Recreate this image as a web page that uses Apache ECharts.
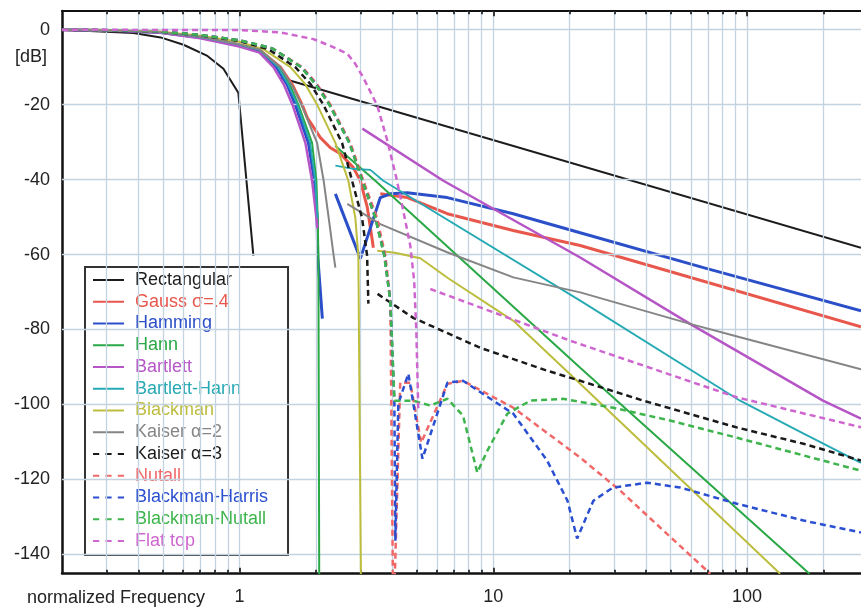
<!DOCTYPE html>
<html><head><meta charset="utf-8">
<script src="https://cdn.jsdelivr.net/npm/echarts@6/dist/echarts.min.js"></script>
<style>html,body{margin:0;padding:0;background:#fff}#c{width:861px;height:608px}</style>
</head><body><div id="c"></div><script>
// [normalized frequency, dB]; null y = gap
const rectangular = [[0.2,0],[0.383,-0.9],[0.489,-2.05],[0.602,-4.0],[0.748,-7.0],[0.865,-10.4],[0.99,-16.8],[1.135,-60.3],[1.3,null],[1.45,-12.8],[281,-58.2]];
const gauss = [[0.2,0],[0.35,-0.25],[0.489,-0.7],[0.702,-2.0],[1,-4.0],[1.2,-5.4],[1.45,-10],[1.62,-14.8],[1.766,-20],[1.852,-23.5],[2.084,-28.8],[2.282,-31.5],[2.498,-33.1],[2.811,-36.8],[2.995,-40.3],[3.192,-47.5],[3.28,-52.8],[3.37,-58.2],[3.5,null],[3.59,-43.8],[4.59,-44.8],[6.59,-49.1],[11.98,-53.6],[22,-57.6],[281,-79.3]];
const hamming = [[0.2,0],[0.35,-0.25],[0.489,-0.75],[0.702,-2.1],[1,-4.2],[1.2,-5.7],[1.399,-10],[1.54,-14.6],[1.661,-20],[1.869,-30.2],[1.974,-40.3],[2.023,-50.2],[2.034,-60.3],[2.122,-77.1],[2.2,null],[2.388,-43.8],[2.995,-61.1],[3.59,-44.8],[3.931,-43.8],[4.586,-43.5],[6.59,-44.8],[11.98,-49.1],[22,-54.2],[67.3,-63.5],[281,-75]];
const hann = [[0.2,0],[0.35,-0.25],[0.489,-0.7],[0.702,-2.0],[1,-4.0],[1.2,-5.3],[1.437,-10],[1.58,-14.7],[1.707,-20],[1.933,-30.2],[2.01,-40.3],[2.034,-50.2],[2.047,-60.3],[2.065,-160],[2.2,null],[2.388,-31],[3.43,-40.3],[22,-90.2],[176,-145.2]];
const bartlett = [[0.2,0],[0.35,-0.3],[0.489,-0.8],[0.702,-2.3],[1,-4.5],[1.2,-6.1],[1.361,-10],[1.5,-14.8],[1.617,-20],[1.819,-30.2],[1.933,-40.3],[2.01,-50.2],[2.028,-53],[2.5,null],[3.05,-26.4],[6.36,-40.3],[22,-60.8],[59.6,-78.5],[199,-99],[281,-103.8]];
const bartlettHann = [[0.2,0],[0.35,-0.25],[0.489,-0.7],[0.702,-2.0],[1,-4.0],[1.2,-5.4],[1.42,-10],[1.56,-14.7],[1.69,-20],[1.9,-30.2],[1.99,-40.3],[2.03,-50.2],[2.2,null],[2.388,-36.3],[2.78,-37.1],[3.28,-37.4],[3.689,-40.3],[22,-72.3],[93.8,-99],[167,-107.8],[281,-115.6]];
const blackman = [[0.2,0],[0.35,-0.2],[0.489,-0.55],[0.702,-1.6],[1,-3.2],[1.25,-5.3],[1.588,-10],[1.82,-14.6],[2.023,-20],[2.388,-30.2],[2.686,-40.3],[2.862,-50.2],[2.941,-60.3],[3.022,-160],[3.2,null],[3.49,-59],[4.1,-59.5],[5.16,-61],[6.6,-66.2],[12,-77.7],[22,-94.5],[134.9,-145.2]];
const kaiser2 = [[0.2,0],[0.35,-0.25],[0.489,-0.7],[0.702,-1.9],[1,-3.9],[1.2,-5.3],[1.45,-10],[1.61,-14.8],[1.754,-20],[2.023,-30.2],[2.147,-40.3],[2.247,-50.2],[2.351,-60.3],[2.388,-63.5],[2.5,null],[2.66,-46.5],[3.59,-51.9],[6.58,-59.4],[12,-66.1],[22,-70.1],[59.6,-78.5],[93.8,-82.1],[281,-90.6]];
const kaiser3 = [[0.2,0],[0.35,-0.2],[0.489,-0.5],[0.702,-1.5],[1,-3.0],[1.3,-5.2],[1.661,-10],[1.91,-14.6],[2.141,-20],[2.537,-30.2],[2.778,-40.3],[3.041,-50.2],[3.184,-60.3],[3.221,-73.1],[3.3,null],[3.5,-70.5],[4.84,-76.9],[8.89,-84.9],[16.3,-91],[22,-93.7],[39,-99],[91.6,-106.2],[166.7,-110.5],[281,-115]];
const nutall = [[0.2,0],[0.35,-0.15],[0.489,-0.45],[0.702,-1.4],[1,-2.8],[1.35,-5.0],[1.771,-10],[2.03,-14.7],[2.282,-20],[2.735,-30.2],[3.078,-40.3],[3.484,-50.2],[3.757,-60.3],[3.931,-72.3],[4.04,-160],[4.3,-94.2],[4.71,-94.2],[5.2,-110.2],[6.6,-94.5],[7.6,-93.7],[12,-100.9],[22,-114.2],[31.6,-123],[71.6,-145.2]];
const blackmanHarris = [[0.2,0],[0.35,-0.15],[0.489,-0.45],[0.702,-1.4],[1,-2.8],[1.35,-5.0],[1.754,-10],[2.01,-14.7],[2.262,-20],[2.711,-30.2],[3.05,-40.3],[3.43,-50.2],[3.723,-60.3],[3.931,-72.3],[4.077,-99],[4.114,-136.4],[4.227,-99.8],[4.63,-91.8],[5.26,-114.5],[6.6,-94.2],[7.6,-93.7],[12,-102.5],[16.3,-115],[19.6,-125.7],[21.4,-135.8],[24.8,-125.7],[29.6,-122.2],[40.4,-120.9],[54.5,-122.2],[91.2,-126.5],[167,-131],[281,-134.2]];
const blackmanNutall = [[0.2,0],[0.35,-0.15],[0.489,-0.45],[0.702,-1.4],[1,-2.8],[1.35,-5.0],[1.75,-10],[2.0,-14.7],[2.26,-20],[2.71,-30.2],[3.05,-40.3],[3.43,-50.2],[3.72,-60.3],[3.93,-72.3],[4.08,-99],[4.227,-99],[4.84,-99],[5.65,-100.3],[6.6,-98.5],[7.6,-103],[8.65,-118.2],[9.47,-112.4],[11.36,-102.5],[14,-99],[18.86,-98.5],[29.7,-100.9],[49.7,-104.3],[91.3,-108.9],[281,-117.7]];
const flatTop = [[0.2,0],[1,-0.1],[1.45,-0.7],[1.956,-2.5],[2.28,-4.3],[2.662,-6.4],[2.86,-9.1],[3.078,-12.8],[3.494,-20.3],[3.825,-29.6],[4.15,-39.5],[4.42,-48.3],[4.71,-57.6],[4.88,-67],[4.976,-80.3],[5.067,-101.7],[5.3,null],[5.65,-69.2],[20.1,-83],[91,-98.1],[281,-106.1]];

const xGridValues = [0.3,0.4,0.5,0.6,0.7,0.8,0.9,1,2,3,4,5,6,7,8,9,10,20,30,40,50,60,70,80,90,100,200];
const yGridValues = [0,-20,-40,-60,-80,-100,-120,-140];
const xTickLabels = [1,10,100];
const xRange = [0.2,281];
const yRange = [-145,5];

const FONT = 'Liberation Sans, Arial, sans-serif';
const SOLID_ICON = 'path://M0,0H30V2H0Z';
const DASH_ICON = 'path://M0,0H6V2H0Z M12,0H18V2H12Z M24,0H30V2H24Z';
const seriesDefs = [
  {name:'Rectangular', data:rectangular, color:'#1c1c1c', width:2, dash:'solid'},
  {name:'Gauss σ=.4', data:gauss, color:'#e8574c', width:3, dash:'solid'},
  {name:'Hamming', data:hamming, color:'#2b4fc8', width:3, dash:'solid'},
  {name:'Hann', data:hann, color:'#2aa845', width:2, dash:'solid'},
  {name:'Bartlett', data:bartlett, color:'#b656c6', width:2.5, dash:'solid'},
  {name:'Bartlett-Hann', data:bartlettHann, color:'#25a9b3', width:1.8, dash:'solid'},
  {name:'Blackman', data:blackman, color:'#bdbd3d', width:2, dash:'solid'},
  {name:'Kaiser α=2', data:kaiser2, color:'#858585', width:2, dash:'solid'},
  {name:'Kaiser α=3', data:kaiser3, color:'#1a1a1a', width:2.5, dash:[6,4]},
  {name:'Nutall', data:nutall, color:'#f06868', width:2.5, dash:[6,4]},
  {name:'Blackman-Harris', data:blackmanHarris, color:'#2a4fd0', width:2.5, dash:[6,4]},
  {name:'Blackman-Nutall', data:blackmanNutall, color:'#3db54c', width:2.5, dash:[6,4]},
  {name:'Flat top', data:flatTop, color:'#cf66cf', width:2.5, dash:[6,4]}
];

const chart = echarts.init(document.getElementById('c'), null, {renderer:'canvas'});
const isDecade = v => { const l = Math.log10(v); return Math.abs(l - Math.round(l)) < 1e-6; };

// tick marks on bottom and top borders at every grid value (length in dB units)
const tickSegs = [];
xGridValues.forEach(v=>{
  const len = isDecade(v) ? 1.4 : 0.9;
  tickSegs.push([{coord:[v,yRange[0]]},{coord:[v,yRange[0]+len]}]);
  tickSegs.push([{coord:[v,yRange[1]]},{coord:[v,yRange[1]-len]}]);
});

const series = [{
  name:'__grid', type:'line', data:[], silent:true, z:1, animation:false,
  markLine:{
    silent:true, symbol:['none','none'], label:{show:false}, animation:false,
    lineStyle:{color:'#c4d3e0', width:1.3, type:'solid'},
    emphasis:{disabled:true},
    data:[...xGridValues.map(v=>({xAxis:v})), ...yGridValues.map(v=>({yAxis:v}))]
  }
},{
  name:'__ticks', type:'line', data:[], silent:true, z:30, animation:false,
  markLine:{
    silent:true, symbol:['none','none'], label:{show:false}, animation:false,
    lineStyle:{color:'#111', width:1.6, type:'solid'},
    emphasis:{disabled:true},
    data:tickSegs
  }
}];
seriesDefs.forEach((s,i)=>{
  series.push({
    name:s.name, type:'line', data:s.data, symbol:'none', showSymbol:false,
    connectNulls:false, clip:true, animation:false, z:2+i,
    lineStyle:{color:s.color, width:s.width, type:s.dash},
    itemStyle:{color:s.color},
    emphasis:{disabled:true}
  });
});

chart.setOption({
  animation:false,
  backgroundColor:'#ffffff',
  grid:{left:62, top:11, right:0, bottom:35, containLabel:false},
  xAxis:[{
    type:'log', logBase:10, min:xRange[0], max:xRange[1],
    axisLine:{show:true, onZero:false, lineStyle:{color:'#111', width:2.5}},
    axisTick:{show:false},
    splitLine:{show:false},
    axisLabel:{show:true, margin:15, fontSize:18, fontFamily:FONT, color:'#222',
      showMinLabel:false, showMaxLabel:false,
      formatter:v => (isDecade(v) && xTickLabels.includes(Math.round(v))) ? String(Math.round(v)) : ''}
  },{
    type:'log', logBase:10, min:xRange[0], max:xRange[1], position:'top',
    axisLine:{show:true, onZero:false, lineStyle:{color:'#111', width:2}},
    axisTick:{show:false},
    splitLine:{show:false}, axisLabel:{show:false}
  }],
  yAxis:{
    type:'value', min:yRange[0], max:yRange[1], interval:5,
    axisLine:{show:true, onZero:false, lineStyle:{color:'#111', width:2.5}},
    axisTick:{show:false}, splitLine:{show:false},
    axisLabel:{margin:12, fontSize:18, fontFamily:FONT, color:'#222',
      formatter:v => (Math.round(v) % 20 === 0) ? String(Math.round(v)) : ''}
  },
  legend:{
    orient:'vertical', left:85, top:267,
    backgroundColor:'#ffffff', borderColor:'#333', borderWidth:2,
    padding:[3,20,4,8], itemGap:1.75, itemWidth:31, itemHeight:2,
    selectedMode:false, symbolKeepAspect:false,
    itemStyle:{borderWidth:0},
    textStyle:{fontSize:18, fontFamily:FONT, lineHeight:20, padding:[0,0,0,6]},
    data:seriesDefs.map(s=>({
      name:s.name,
      icon: s.dash === 'solid' ? SOLID_ICON : DASH_ICON,
      itemStyle:{color:s.color, borderWidth:0},
      textStyle:{color:s.color}
    }))
  },
  graphic:[
    {type:'text', x:15, y:57, style:{text:'[dB]', fontSize:18, fontFamily:FONT, fill:'#222', verticalAlign:'middle', align:'left'}},
    {type:'text', x:27, y:598, style:{text:'normalized Frequency', fontSize:18, fontFamily:FONT, fill:'#222', verticalAlign:'middle', align:'left'}}
  ],
  series
});
</script></body></html>
